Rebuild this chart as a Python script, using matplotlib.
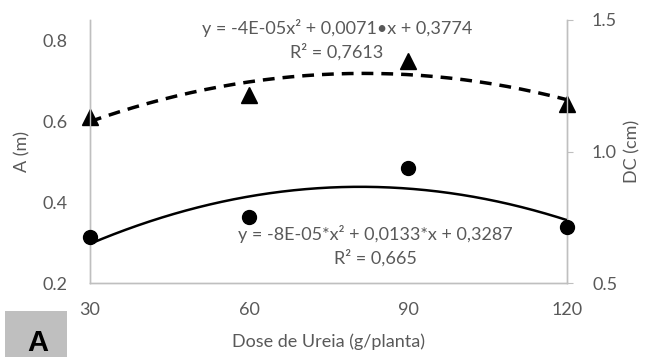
import numpy as np
import matplotlib
matplotlib.use('Agg')
import matplotlib.pyplot as plt
from matplotlib.patches import Rectangle

# ── Data ──────────────────────────────────────────────────────────────
dose = [30, 60, 90, 120]
altura_a = [0.610, 0.664, 0.748, 0.642]      # A (m), left axis, triangles
diametro_dc = [0.675, 0.751, 0.937, 0.713]   # DC (cm), right axis, circles

eq_a = 'y = -4E-05x\u00b2 + 0,0071\u2022x + 0,3774\nR\u00b2 = 0,7613'
eq_dc = 'y = -8E-05*x\u00b2 + 0,0133*x + 0,3287\nR\u00b2 = 0,665'

GRAY_TXT = '#595959'
GRAY_AX = '#BFBFBF'
FS = 13

plt.rcParams['font.family'] = ['Lato', 'DejaVu Sans']

W, H = 646, 358
fig = plt.figure(figsize=(W / 100, H / 100), dpi=100)
ax = fig.add_axes([90 / W, 1 - 283 / H, 477 / W, 263 / H])
ax2 = ax.twinx()

# trendlines (2nd-order polynomial, as the spreadsheet does)
xs = np.linspace(min(dose), max(dose), 200)
ca = np.polyfit(dose, altura_a, 2)
cd = np.polyfit(dose, diametro_dc, 2)
ax.plot(xs, np.polyval(ca, xs), color='black', lw=2.5, ls=(0, (3.4, 2.3)), zorder=3)
ax2.plot(xs, np.polyval(cd, xs), color='black', lw=1.8, zorder=3)

ax.plot(dose, altura_a, ls='none', marker='^', ms=11.5, color='black',
        clip_on=False, zorder=4)
ax2.plot(dose, diametro_dc, ls='none', marker='o', ms=10, color='black',
         clip_on=False, zorder=4)

ax.set_xlim(30, 120)
ax.set_ylim(0.2, 0.85)
ax2.set_ylim(0.5, 1.5)
ax.set_xticks(dose)
ax.set_yticks([0.2, 0.4, 0.6, 0.8])
ax.set_yticklabels(['0.2', '0.4', '0.6', '0.8'])
ax2.set_yticks([0.5, 1.0, 1.5])
ax2.set_yticklabels(['0.5', '1.0', '1.5'])

for a in (ax, ax2):
    a.spines['top'].set_visible(False)
    for s in ('left', 'right', 'bottom'):
        a.spines[s].set_color(GRAY_AX)
        a.spines[s].set_linewidth(1.0)
    a.set_facecolor('none')

ax.tick_params(axis='y', length=0, colors=GRAY_TXT, labelsize=FS, pad=16)
ax.tick_params(axis='x', length=0, colors=GRAY_TXT, labelsize=FS, pad=14)
ax2.tick_params(axis='y', length=4, color=GRAY_AX, labelcolor=GRAY_TXT,
                labelsize=FS, pad=14)

ax.set_xlabel('Dose de Ureia (g/planta)', color=GRAY_TXT, fontsize=FS)
ax.xaxis.set_label_coords(0.5, (283 - 342) / 263)
ax.xaxis.label.set_va('center')
ax.set_ylabel('A (m)', color=GRAY_TXT, fontsize=FS)
ax.yaxis.set_label_coords((22 - 90) / 477, 0.5)
ax.yaxis.label.set_va('center')
ax2.set_ylabel('DC (cm)', color=GRAY_TXT, fontsize=FS)
ax2.yaxis.set_label_coords((632 - 90) / 477, 0.5)
ax2.yaxis.label.set_va('center')

fig.text(337 / W, 1 - 40 / H, eq_a, ha='center', va='center',
         color=GRAY_TXT, fontsize=FS, linespacing=1.4)
fig.text(375 / W, 1 - 246 / H, eq_dc, ha='center', va='center',
         color=GRAY_TXT, fontsize=FS, linespacing=1.4)

# panel letter box
fig.patches.append(Rectangle((5 / W, 1 / H), 62 / W, 46 / H,
                             transform=fig.transFigure, facecolor=GRAY_AX,
                             edgecolor='none'))
fig.text(38 / W, 1 / H, 'A', ha='center', va='bottom', fontsize=21,
         fontweight='bold', color='black', family=['Liberation Sans', 'DejaVu Sans'])

fig.savefig('out.png', dpi=100)
